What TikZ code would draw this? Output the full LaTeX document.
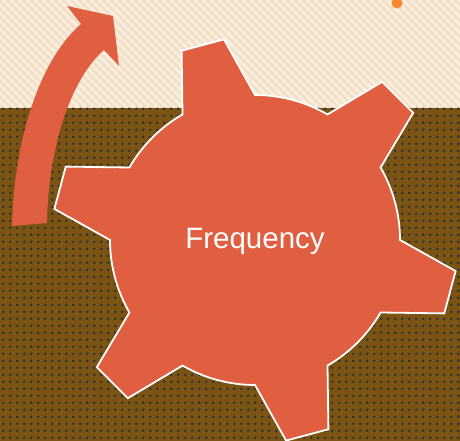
\documentclass[tikz,border=0pt]{standalone}
\usepackage{fontspec}
\setsansfont{Liberation Sans}
\usetikzlibrary{patterns}
\definecolor{gearred}{HTML}{DF5F40}
\definecolor{creambg}{HTML}{F9EEDF}
\definecolor{creamline}{HTML}{F3E0C4}
\definecolor{brownbg}{HTML}{7B5413}
\definecolor{dotorange}{HTML}{F7882F}
\pgfdeclarepatternformonly{creamstripes}{\pgfpoint{-1pt}{-1pt}}{\pgfpoint{9pt}{9pt}}{\pgfpoint{8pt}{8pt}}{%
  \pgfsetlinewidth{2.4pt}
  \pgfpathmoveto{\pgfpoint{-1pt}{9pt}}\pgfpathlineto{\pgfpoint{9pt}{-1pt}}
  \pgfpathmoveto{\pgfpoint{-1pt}{1pt}}\pgfpathlineto{\pgfpoint{1pt}{-1pt}}
  \pgfpathmoveto{\pgfpoint{7pt}{9pt}}\pgfpathlineto{\pgfpoint{9pt}{7pt}}
  \pgfusepath{stroke}}
\pgfdeclarepatternformonly{browndots}{\pgfpointorigin}{\pgfpoint{6.67pt}{6.67pt}}{\pgfpoint{6.67pt}{6.67pt}}{%
  \pgfpathcircle{\pgfpoint{3.33pt}{3.33pt}}{1.5pt}
  \pgfusepath{fill}}

\begin{document}
\begin{tikzpicture}[
  x=1pt, y=1pt,
  every node/.style={font=\sffamily},
  gearbody/.style={fill=gearred, draw=white, line width=1.8pt, line join=miter},
  curvedarr/.style={fill=gearred},
  lbl/.style={text=white, font=\sffamily\fontsize{29.5}{33}\selectfont, inner sep=0pt}
]
\useasboundingbox (0,0) rectangle (460,441);
% background
\fill[creambg] (0,333) rectangle (460,441);
\fill[pattern=creamstripes, pattern color=creamline] (0,333) rectangle (460,441);
\fill[brownbg] (0,0) rectangle (460,333);
\fill[pattern=browndots, pattern color=black!80] (0,0) rectangle (460,333);
\fill[dotorange] (397,438) circle (5.5);
% curved arrow
\fill[curvedarr] (12,215) .. controls (14,301) and (39.5,381) .. (81,417)
  -- (67,435) -- (113,425) -- (119,375) -- (104,391)
  .. controls (70,361.5) and (48,291) .. (47,218) -- cycle;
% the gear
\begin{scope}[shift={(255,201)}]
\draw[gearbody] (120:145)
  \foreach \a in {105,45,-15,-75,-135,-195} {
    -- ({\a+6.2}:203) -- ({\a-6.2}:203) -- ({\a-15}:145)
    arc[start angle={\a-15}, end angle={\a-45}, radius=145]
  } -- cycle;
\end{scope}
\node[lbl, anchor=base] (freq) at (255,192) {Frequency};
\end{tikzpicture}
\end{document}
